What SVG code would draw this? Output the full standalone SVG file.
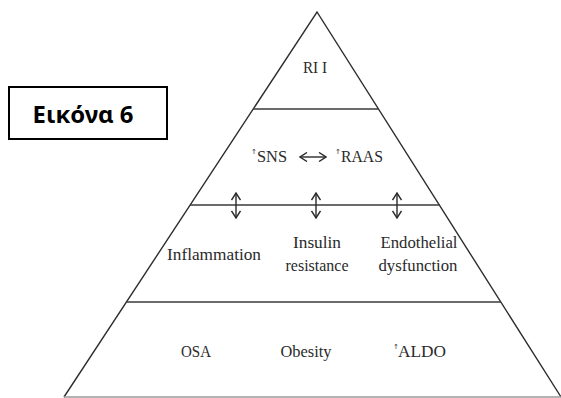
<svg xmlns="http://www.w3.org/2000/svg" width="561" height="398" viewBox="0 0 561 398">
<style>
.edge{stroke:#2e2e2e;stroke-width:1.4;fill:none}
.tier{stroke:#3a3a3a;stroke-width:1.6}
.lbl{font-family:"Liberation Serif","Times New Roman",serif;font-size:17px;fill:#2a2a2a;text-anchor:middle}
.up{font-family:"DejaVu Sans",sans-serif;font-size:7px;fill:#2a2a2a}
.arr{stroke:#2a2a2a;stroke-width:1.4;fill:none;marker-start:url(#chev);marker-end:url(#chev)}
</style>
<defs>
<marker id="chev" viewBox="0 0 10 10" refX="9" refY="5" markerWidth="10" markerHeight="10" markerUnits="userSpaceOnUse" orient="auto-start-reverse">
<path d="M2,0.5 L9,5 L2,9.5" fill="none" stroke="#2a2a2a" stroke-width="1.4"/>
</marker>
</defs>
<rect width="561" height="398" fill="#fff"/>
<g id="pyramid">
<path class="edge" d="M64,397 L317,12 L561,397"/>
<line x1="64" y1="397" x2="561" y2="397" stroke="#9a9a9a" stroke-width="1.4"/>
<line class="tier" x1="253" y1="109" x2="379" y2="109"/>
<line class="tier" x1="190" y1="205" x2="440" y2="205"/>
<line class="tier" x1="126" y1="302" x2="501" y2="302"/>
</g>
<g id="title">
<rect x="9" y="87" width="158" height="52" fill="#fff" stroke="#000" stroke-width="2"/>
<text x="83" y="123" font-family="'Noto Sans','Liberation Sans',sans-serif" font-weight="bold" font-size="24" text-anchor="middle" textLength="101" lengthAdjust="spacingAndGlyphs" fill="#000">Εικόνα 6</text>
</g>
<g id="tier1">
<text class="lbl" x="315" y="73" textLength="24" lengthAdjust="spacingAndGlyphs">RI I</text>
</g>
<g id="tier2">
<text class="up" x="251" y="154">↑</text>
<text class="lbl" x="272" y="162" textLength="30" lengthAdjust="spacingAndGlyphs">SNS</text>
<text class="up" x="335" y="154">↑</text>
<text class="lbl" x="362" y="162" textLength="42" lengthAdjust="spacingAndGlyphs">RAAS</text>
</g>
<g id="tier3">
<text class="lbl" x="214" y="260" textLength="94" lengthAdjust="spacingAndGlyphs">Inflammation</text>
<text class="lbl" x="317" y="248" textLength="48" lengthAdjust="spacingAndGlyphs">Insulin</text>
<text class="lbl" x="317" y="271" textLength="63" lengthAdjust="spacingAndGlyphs">resistance</text>
<text class="lbl" x="419" y="248" textLength="77" lengthAdjust="spacingAndGlyphs">Endothelial</text>
<text class="lbl" x="418" y="271" textLength="79" lengthAdjust="spacingAndGlyphs">dysfunction</text>
</g>
<g id="tier4">
<text class="lbl" x="196" y="357" textLength="30" lengthAdjust="spacingAndGlyphs">OSA</text>
<text class="lbl" x="306" y="357" textLength="51" lengthAdjust="spacingAndGlyphs">Obesity</text>
<text class="up" x="393" y="349">↑</text>
<text class="lbl" x="422" y="357" textLength="48" lengthAdjust="spacingAndGlyphs">ALDO</text>
</g>
<g id="connectors">
<line class="arr" x1="300" y1="157" x2="326" y2="157"/>
<line class="arr" x1="236" y1="193" x2="236" y2="218"/>
<line class="arr" x1="316" y1="193" x2="316" y2="218"/>
<line class="arr" x1="397" y1="193" x2="397" y2="218"/>
</g>
</svg>
